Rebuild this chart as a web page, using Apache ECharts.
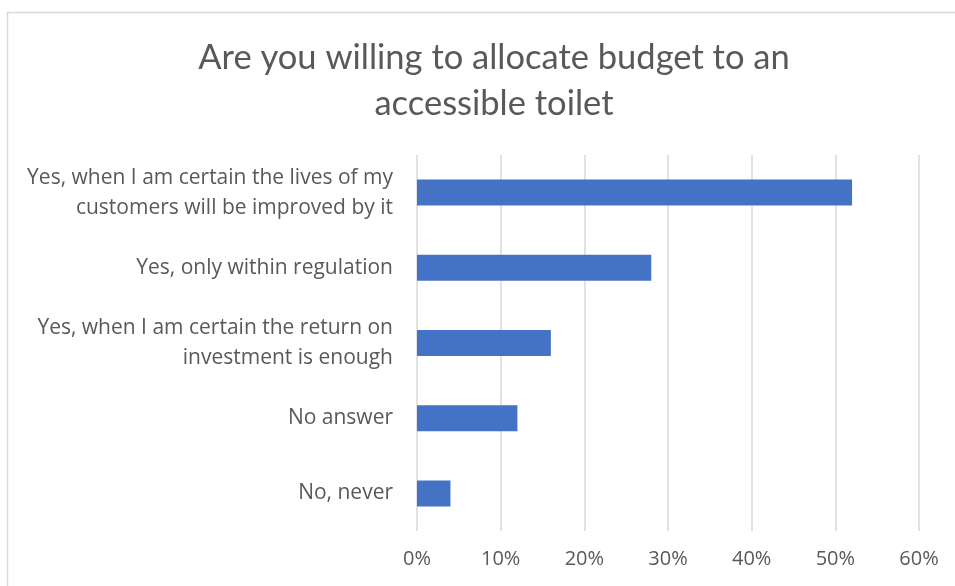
<!DOCTYPE html>
<html>
<head>
<meta charset="utf-8">
<script src="https://cdn.jsdelivr.net/npm/echarts@6/dist/echarts.min.js"></script>
<style>
  html, body { margin: 0; padding: 0; background: #ffffff; }
  #chart { width: 955px; height: 586px; }
</style>
</head>
<body>
<div id="chart"></div>
<script>
// Survey answers, top to bottom
const categories = [
  'Yes, when I am certain the lives of my\ncustomers will be improved by it',
  'Yes, only within regulation',
  'Yes, when I am certain the return on\ninvestment is enough',
  'No answer',
  'No, never'
];
// Share of respondents (%)
const shares = [52, 28, 16, 12, 4];
// Value axis tick range (%)
const axisMin = 0;
const axisMax = 60;
const axisStep = 10;

const chart = echarts.init(document.getElementById('chart'), null, { renderer: 'canvas' });

const textGray = '#595959';

chart.setOption({
  animation: false,
  backgroundColor: '#ffffff',
  title: {
    text: 'Are you willing to allocate budget to an\naccessible toilet',
    left: 489,
    top: 30,
    textAlign: 'center',
    textStyle: {
      fontFamily: 'Lato',
      fontSize: 34.5,
      fontWeight: 'normal',
      lineHeight: 46,
      color: textGray
    }
  },
  graphic: [{
    type: 'rect',
    shape: { x: 7.5, y: 12.5, width: 1000, height: 1000 },
    style: { fill: 'none', stroke: '#d9d9d9', lineWidth: 1.5 },
    silent: true,
    z: 0
  }],
  grid: {
    left: 417,
    right: 36,
    top: 155,
    bottom: 55,
    containLabel: false
  },
  xAxis: {
    type: 'value',
    min: axisMin,
    max: axisMax,
    interval: axisStep,
    axisLine: { show: false },
    axisTick: { show: false },
    splitLine: { show: true, lineStyle: { color: '#d9d9d9', width: 1.5 } },
    axisLabel: {
      formatter: v => v + '%',
      fontFamily: 'Open Sans',
      fontSize: 20,
      color: textGray,
      margin: 18
    }
  },
  yAxis: {
    type: 'category',
    data: categories,
    inverse: true,
    axisLine: { show: false },
    axisTick: { show: false },
    splitLine: { show: false },
    axisLabel: {
      fontFamily: 'Open Sans',
      fontSize: 21,
      lineHeight: 30,
      color: textGray,
      align: 'right',
      margin: 24
    }
  },
  series: [{
    type: 'bar',
    data: shares,
    barWidth: 26,
    itemStyle: { color: '#4472C4' }
  }]
});
</script>
</body>
</html>
